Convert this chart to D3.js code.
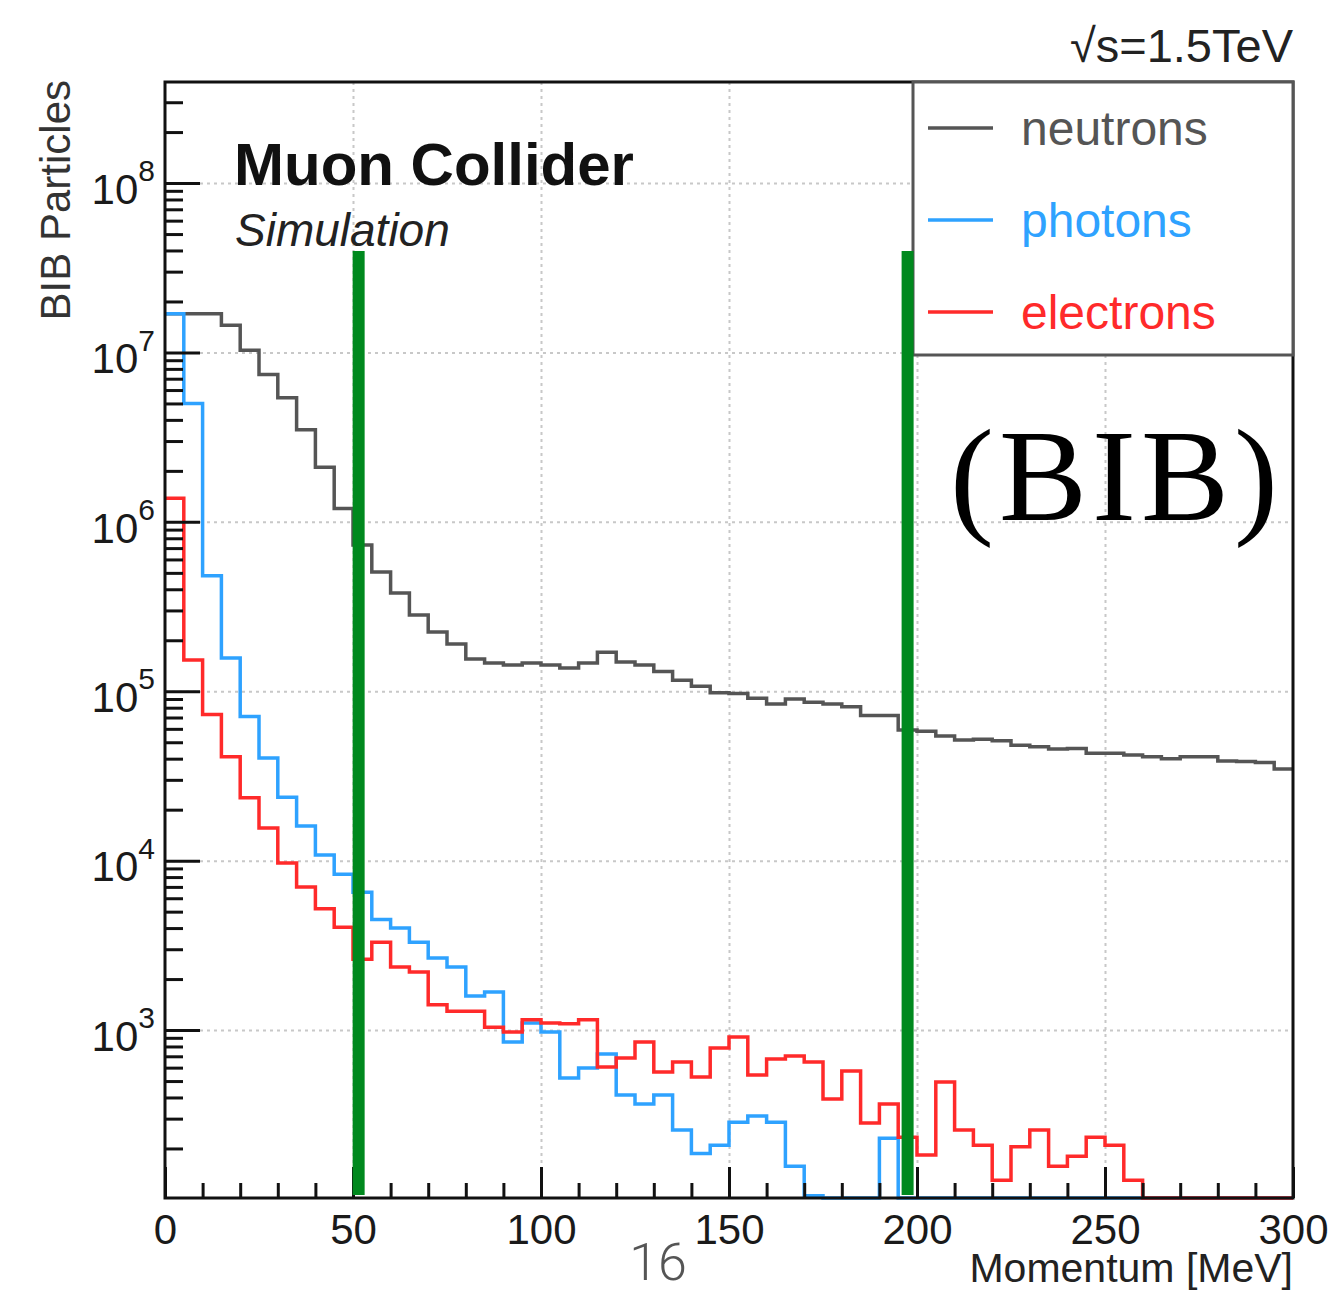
<!DOCTYPE html>
<html>
<head>
<meta charset="utf-8">
<script src="https://cdn.jsdelivr.net/npm/d3@7"></script>
<style>
  body { margin: 0; background: #fff; }
  text { font-family: "Liberation Sans", Arial, sans-serif; }
</style>
</head>
<body>
<div id="chart"></div>
<script>
// histogram data, 5 MeV bins from 0 to 300 MeV
var binWidth = 5;

var neutrons = [1.69e7, 1.69e7, 1.69e7, 1.45e7, 1.03e7, 7.4e6, 5.4e6, 3.5e6, 2.1e6, 1.2e6,
  7.3e5, 5.06e5, 3.8e5, 2.82e5, 2.24e5, 1.9e5, 1.55e5, 1.47e5, 1.43e5, 1.47e5,
  1.43e5, 1.37e5, 1.47e5, 1.70e5, 1.49e5, 1.43e5, 1.31e5, 1.16e5, 1.07e5, 9.8e4,
  9.7e4, 9.1e4, 8.4e4, 9.0e4, 8.6e4, 8.4e4, 8.1e4, 7.2e4, 7.2e4, 5.9e4,
  5.8e4, 5.45e4, 5.15e4, 5.2e4, 5.1e4, 4.8e4, 4.7e4, 4.56e4, 4.6e4, 4.3e4,
  4.3e4, 4.2e4, 4.1e4, 4.0e4, 4.1e4, 4.1e4, 3.87e4, 3.85e4, 3.8e4, 3.48e4];

var photons = [1.69e7, 5.0e6, 4.8e5, 1.57e5, 7.1e4, 4.04e4, 2.37e4, 1.6e4, 1.08e4, 8.3e3,
  6.5e3, 4.5e3, 4.0e3, 3.3e3, 2.66e3, 2.36e3, 1.59e3, 1.68e3, 849, 1100,
  973, 521, 597, 721, 413, 366, 413, 257, 187, 209,
  286, 311, 286, 157, 105, 0, 0, 0, 230, 0,
  0, 0, 0, 0, 0, 101, 0, 0, 0, 0,
  0, 0, 0, 0, 0, 0, 0, 0, 0, 0];

var electrons = [1.38e6, 1.53e5, 7.3e4, 4.1e4, 2.35e4, 1.56e4, 9.7e3, 6.98e3, 5.2e3, 4.05e3,
  2.62e3, 3.3e3, 2.36e3, 2.2e3, 1.41e3, 1.29e3, 1.29e3, 1040, 973, 1150,
  1100, 1090, 1150, 605, 684, 849, 565, 647, 528, 783,
  910, 542, 675, 703, 647, 392, 573, 283, 366, 233,
  183, 493, 257, 209, 130, 205, 257, 157, 180, 233,
  209, 130, 0, 0, 0, 0, 0, 0, 102, 0];

var seriesNames = ["neutrons", "photons", "electrons"];
var seriesColors = ["#555555", "#2ea2ff", "#ff2a2a"];

var xTicksMajor = [0, 50, 100, 150, 200, 250, 300];
var yDecades = [1e3, 1e4, 1e5, 1e6, 1e7, 1e8];
var yExponents = ["3", "4", "5", "6", "7", "8"];

// vertical marker lines drawn over the plot (MeV)
var markerLines = [51.5, 197.5];

// svg container
var svgWidth = 1331;
var svgHeight = 1291;

var frame = { left: 165, right: 1293, top: 82, bottom: 1198 };

var svg = d3.select("#chart").append("svg")
  .attr("width", svgWidth)
  .attr("height", svgHeight);

// scales
var xScale = d3.scaleLinear()
  .domain([0, 300])
  .range([frame.left, frame.right]);

var yMin = 102;
var yScale = d3.scaleLog()
  .domain([yMin, 3.95e8])
  .range([frame.bottom, frame.top]);

function yPos(v) {
  return yScale(Math.max(v, yMin));
}

// grid
var gridStyle = function(g) {
  g.selectAll(".domain").remove();
  g.selectAll("line")
    .attr("stroke", "#c8c8c8")
    .attr("stroke-width", 2)
    .attr("stroke-dasharray", "3,4");
};

svg.append("g")
  .attr("class", "grid")
  .attr("transform", `translate(0, ${frame.bottom})`)
  .call(d3.axisBottom(xScale)
    .tickValues([50, 100, 150, 200, 250])
    .tickSize(-(frame.bottom - frame.top))
    .tickFormat(""))
  .call(gridStyle);

svg.append("g")
  .attr("class", "grid")
  .attr("transform", `translate(${frame.left}, 0)`)
  .call(d3.axisLeft(yScale)
    .tickValues(yDecades)
    .tickSize(-(frame.right - frame.left))
    .tickFormat(""))
  .call(gridStyle);

// histograms
var line = d3.line()
  .x(d => xScale(d.x))
  .y(d => yPos(d.v))
  .curve(d3.curveStepAfter);

[neutrons, photons, electrons].forEach(function(values, k) {
  var pts = values.map((v, i) => ({ x: i * binWidth, v: v }));
  pts.push({ x: values.length * binWidth, v: values[values.length - 1] });
  svg.append("path")
    .attr("d", line(pts))
    .attr("fill", "none")
    .attr("stroke", seriesColors[k])
    .attr("stroke-width", 3.5);
});

// axes (ticks pointing inward)
var xMinor = d3.range(0, 301, 10).filter(d => d % 50 !== 0);

var xAxisMajor = svg.append("g")
  .attr("class", "axis")
  .attr("transform", `translate(0, ${frame.bottom})`)
  .call(d3.axisBottom(xScale)
    .tickValues(xTicksMajor)
    .tickSizeInner(-31)
    .tickSizeOuter(0)
    .tickPadding(16)
    .tickFormat(d3.format("d")));

xAxisMajor.selectAll("text")
  .attr("font-size", 42)
  .attr("fill", "#1a1a1a");

svg.append("g")
  .attr("class", "axis")
  .attr("transform", `translate(0, ${frame.bottom})`)
  .call(d3.axisBottom(xScale)
    .tickValues(xMinor)
    .tickSizeInner(-15)
    .tickSizeOuter(0)
    .tickFormat(""));

var yMinor = [];
[100, 1e3, 1e4, 1e5, 1e6, 1e7, 1e8].forEach(function(dec) {
  for (var m = 2; m <= 9; m++) {
    if (dec * m > yMin && dec * m < 3.95e8) yMinor.push(dec * m);
  }
});

svg.append("g")
  .attr("class", "axis")
  .attr("transform", `translate(${frame.left}, 0)`)
  .call(d3.axisLeft(yScale)
    .tickValues(yMinor)
    .tickSizeInner(-18)
    .tickSizeOuter(0)
    .tickFormat(""));

var yAxisMajor = svg.append("g")
  .attr("class", "axis")
  .attr("transform", `translate(${frame.left}, 0)`)
  .call(d3.axisLeft(yScale)
    .tickValues(yDecades)
    .tickSizeInner(-35)
    .tickSizeOuter(0)
    .tickPadding(10)
    .tickFormat(""));

yAxisMajor.selectAll(".tick text")
  .attr("font-size", 42)
  .attr("fill", "#1a1a1a")
  .attr("dy", "0.48em")
  .each(function(d, i) {
    var t = d3.select(this);
    t.append("tspan").text("10");
    t.append("tspan")
      .attr("font-size", 30)
      .attr("dy", "-0.75em")
      .text(yExponents[i]);
  });

svg.selectAll(".axis .tick line").attr("stroke", "#111").attr("stroke-width", 3);
svg.selectAll(".axis .domain").attr("stroke", "none");

// frame
svg.append("rect")
  .attr("x", frame.left)
  .attr("y", frame.top)
  .attr("width", frame.right - frame.left)
  .attr("height", frame.bottom - frame.top)
  .attr("fill", "none")
  .attr("stroke", "#111")
  .attr("stroke-width", 3);

// legend
var legend = svg.append("g");
legend.append("rect")
  .attr("x", 913)
  .attr("y", frame.top)
  .attr("width", frame.right - 913)
  .attr("height", 273)
  .attr("fill", "#fff")
  .attr("stroke", "#555")
  .attr("stroke-width", 3);

seriesNames.forEach(function(name, k) {
  var ly = 128 + k * 92;
  legend.append("line")
    .attr("x1", 928).attr("x2", 993)
    .attr("y1", ly).attr("y2", ly)
    .attr("stroke", seriesColors[k])
    .attr("stroke-width", 3.5);
  legend.append("text")
    .attr("x", 1021)
    .attr("y", ly + 17)
    .attr("font-size", 48)
    .attr("fill", seriesColors[k])
    .text(name);
});

// marker lines
svg.selectAll(".marker")
  .data(markerLines)
  .enter()
  .append("rect")
  .attr("class", "marker")
  .attr("x", d => xScale(d) - 6)
  .attr("y", 251)
  .attr("width", 12)
  .attr("height", 944)
  .attr("fill", "#00891e");

// texts
svg.append("text")
  .attr("x", 234)
  .attr("y", 185)
  .attr("font-size", 60)
  .attr("font-weight", "bold")
  .attr("fill", "#111")
  .text("Muon Collider");

svg.append("text")
  .attr("x", 235)
  .attr("y", 246)
  .attr("font-size", 46)
  .attr("font-style", "italic")
  .attr("fill", "#222")
  .text("Simulation");

svg.append("text")
  .attr("x", 1293)
  .attr("y", 62)
  .attr("text-anchor", "end")
  .attr("font-size", 47)
  .attr("fill", "#222")
  .text("\u221As=1.5TeV");

svg.append("text")
  .attr("transform", "rotate(-90)")
  .attr("x", -80)
  .attr("y", 70)
  .attr("text-anchor", "end")
  .attr("font-size", 42)
  .attr("fill", "#333")
  .text("BIB Particles");

svg.append("text")
  .attr("x", 1293)
  .attr("y", 1282)
  .attr("text-anchor", "end")
  .attr("font-size", 41)
  .attr("fill", "#222")
  .text("Momentum [MeV]");

svg.append("text")
  .attr("x", 658)
  .attr("y", 1280)
  .attr("text-anchor", "middle")
  .attr("font-size", 52)
  .attr("fill", "#555")
  .style("font-family", "Roboto, 'Liberation Sans', sans-serif")
  .style("font-weight", 300)
  .text("16");

svg.append("text")
  .attr("x", 950)
  .attr("y", 520)
  .attr("font-size", 132)
  .attr("textLength", 328)
  .attr("fill", "#000")
  .style("font-family", "'Liberation Serif', 'DejaVu Serif', serif")
  .text("(BIB)");
</script>
</body>
</html>
